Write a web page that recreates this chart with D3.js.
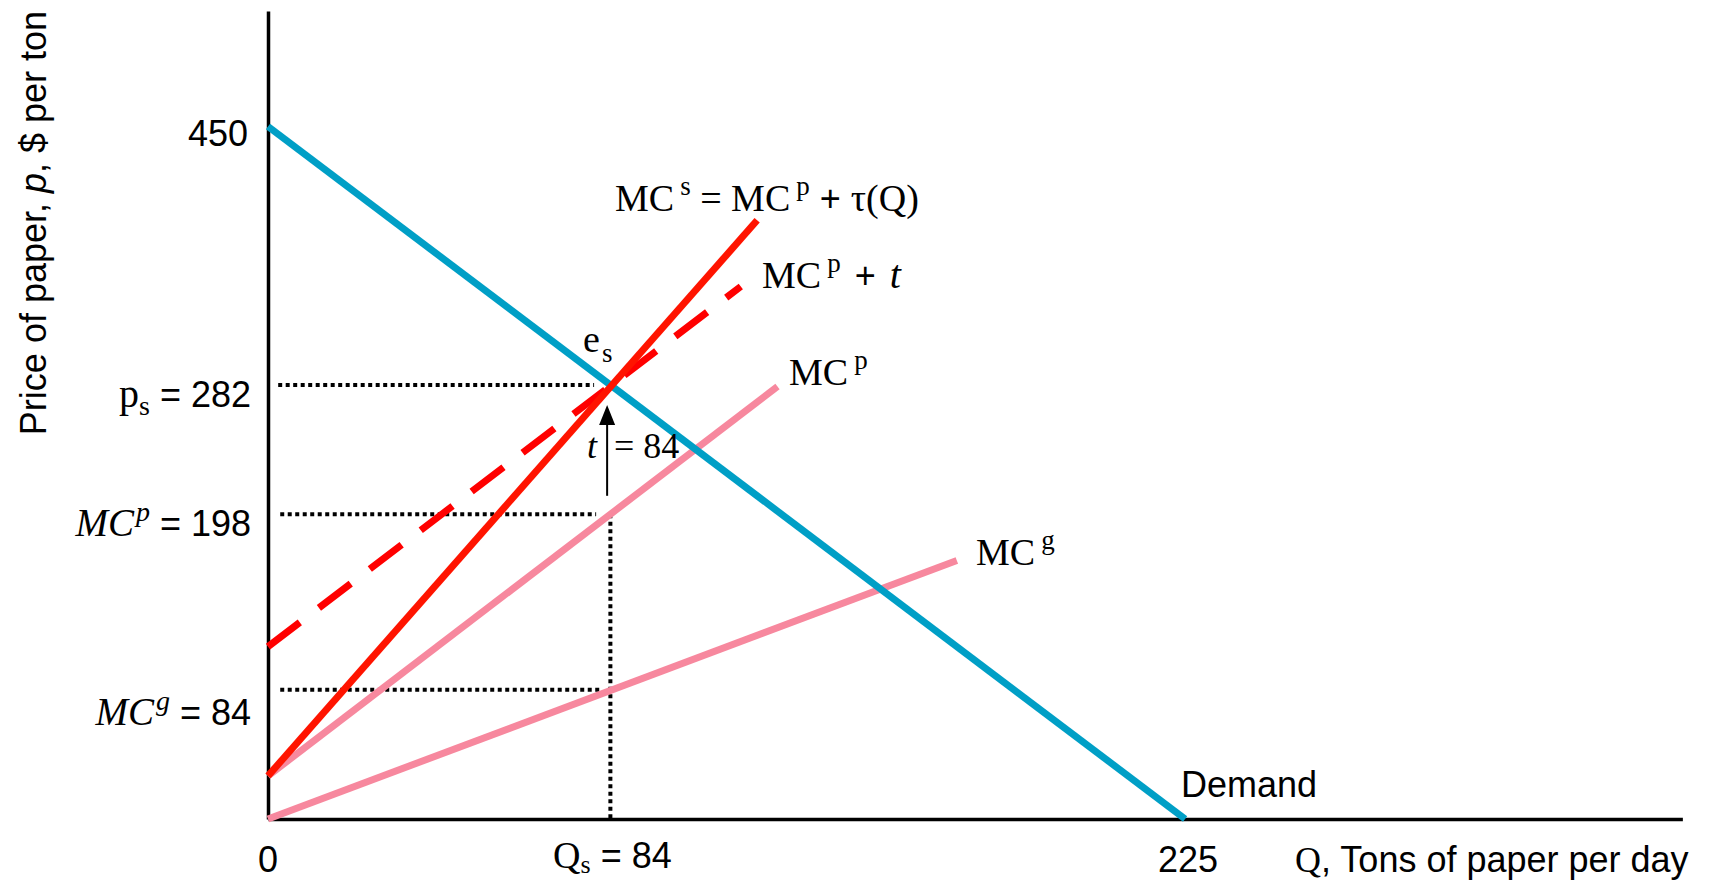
<!DOCTYPE html>
<html>
<head>
<meta charset="utf-8">
<script src="https://cdn.jsdelivr.net/npm/d3@7"></script>
<style>
  body { margin: 0; background: #fff; }
  .sans { font-family: "Liberation Sans", Arial, sans-serif; }
  .serif { font-family: "Liberation Serif", "Times New Roman", serif; }
</style>
</head>
<body>
<div id="chart"></div>
<script>
// curves as (Q, p) end points
const demand = [{ q: 0, p: 450 }, { q: 225, p: 0 }];
const mcSocial = [{ q: 0, p: 28 }, { q: 120, p: 389 }];
const mcPlusTax = [{ q: 0, p: 112 }, { q: 116, p: 346 }];
const mcPrivate = [{ q: 0, p: 28 }, { q: 125, p: 281 }];
const mcGov = [{ q: 0, p: 0 }, { q: 169, p: 168 }];

// dotted guide lines
const guidesH = [
    { p: 282, q0: 2.5, q1: 80 },
    { p: 198, q0: 3, q1: 80.5 },
    { p: 84, q0: 3, q1: 81.5 }
];
const guideV = { q: 84, p0: 198, p1: 0 };

// tax arrow
const taxArrow = { q: 83.2, p0: 210, p1: 269 };

// tick labels
const yTicks = [450, 282, 198, 84];
const xTicks = [0, 84, 225];

const W = 1719, H = 882;
const xMax = 347, yMax = 525;

d3.select("#chart").html("");
const svg = d3.select("#chart").append("svg")
    .attr("width", W)
    .attr("height", H);

const x = d3.scaleLinear().domain([0, xMax]).range([268, 268 + xMax * 4.076]);
const y = d3.scaleLinear().domain([0, yMax]).range([819, 11]);

// helper for labels with super / subscripts
const rich = (px, py, anchor, parts) => {
    const t = svg.append("text")
        .attr("x", px)
        .attr("y", py)
        .attr("text-anchor", anchor)
        .attr("fill", "#000");
    let shift = 0;
    parts.forEach(d => {
        const size = d.size || 36;
        let target = 0;
        if (d.pos === "sup") target = -(d.raise || 14);
        if (d.pos === "sub") target = (d.drop || 9);
        const s = t.append("tspan")
            .attr("class", d.cls || "sans")
            .attr("font-size", size)
            .attr("dy", target - shift)
            .text(d.t);
        if (d.italic) s.attr("font-style", "italic");
        if (d.dx) s.attr("dx", d.dx);
        shift = target;
    });
    return t;
};

// axes: just the two black lines
svg.append("g")
    .attr("transform", `translate(0, ${y(0)})`)
    .call(d3.axisBottom(x).tickValues([]).tickSizeOuter(0))
    .select(".domain").attr("stroke", "#000").attr("stroke-width", 3.5);
svg.append("g")
    .attr("transform", `translate(${x(0)}, 0)`)
    .call(d3.axisLeft(y).tickValues([]).tickSizeOuter(0))
    .select(".domain").attr("stroke", "#000").attr("stroke-width", 3.5);

// dotted guides
const dotted = svg.append("g")
    .attr("stroke", "#000")
    .attr("stroke-width", 4)
    .attr("stroke-dasharray", "4,3.5");
guidesH.forEach(g => {
    dotted.append("line")
        .attr("x1", x(g.q0)).attr("x2", x(g.q1))
        .attr("y1", y(g.p)).attr("y2", y(g.p));
});
dotted.append("line")
    .attr("x1", x(guideV.q)).attr("x2", x(guideV.q))
    .attr("y1", y(guideV.p0)).attr("y2", y(guideV.p1));

// curves
const line = d3.line().x(d => x(d.q)).y(d => y(d.p));
const drawCurve = (data, color, dash) => {
    const p = svg.append("path")
        .datum(data)
        .attr("fill", "none")
        .attr("stroke", color)
        .attr("stroke-width", 7)
        .attr("d", line);
    if (dash) p.attr("stroke-dasharray", dash);
};
drawCurve(mcGov, "#F7889E");
drawCurve(mcPrivate, "#F7889E");
drawCurve(demand, "#009FC6");
drawCurve(mcPlusTax, "#FF0000", "40,24");
drawCurve(mcSocial, "#FF1400");

// tax arrow
svg.append("line")
    .attr("x1", x(taxArrow.q)).attr("x2", x(taxArrow.q))
    .attr("y1", y(taxArrow.p0)).attr("y2", y(taxArrow.p1) + 18)
    .attr("stroke", "#000")
    .attr("stroke-width", 2);
svg.append("path")
    .attr("d", `M${x(taxArrow.q) - 8},${y(taxArrow.p1) + 20} L${x(taxArrow.q)},${y(taxArrow.p1)} L${x(taxArrow.q) + 8},${y(taxArrow.p1) + 20} Z`)
    .attr("fill", "#000");

// y tick labels (right aligned against the axis)
const yl = 251;
rich(yl - 3, y(yTicks[0]) + 20, "end", [{ t: String(yTicks[0]) }]);
rich(yl, y(yTicks[1]) + 22, "end", [
    { t: "p", cls: "serif", size: 40 },
    { t: "s", cls: "serif", size: 28, pos: "sub", drop: 8 },
    { t: " = " + yTicks[1] }
]);
rich(yl, y(yTicks[2]) + 22, "end", [
    { t: "MC", cls: "serif", size: 39, italic: true },
    { t: "p", cls: "serif", size: 28, italic: true, pos: "sup", raise: 15, dx: 2 },
    { t: " = " + yTicks[2] }
]);
rich(yl, y(yTicks[3]) + 35, "end", [
    { t: "MC", cls: "serif", size: 39, italic: true },
    { t: "g", cls: "serif", size: 28, italic: true, pos: "sup", raise: 15, dx: 2 },
    { t: " = " + yTicks[3] }
]);

// x tick labels
const xb = 872;
rich(x(xTicks[0]), xb, "middle", [{ t: String(xTicks[0]) }]);
rich(x(xTicks[1]) + 2, xb - 4, "middle", [
    { t: "Q", cls: "serif", size: 38 },
    { t: "s", cls: "serif", size: 26, pos: "sub", drop: 5 },
    { t: " = " + xTicks[1] }
]);
rich(x(xTicks[2]) + 3, xb, "middle", [{ t: String(xTicks[2]) }]);

// axis titles
rich(1295, xb, "start", [
    { t: "Q", cls: "serif", size: 36 },
    { t: ", Tons of paper per day" }
]);
svg.append("text")
    .attr("class", "sans")
    .attr("font-size", 36)
    .attr("text-anchor", "middle")
    .attr("transform", `translate(46, ${223}) rotate(-90)`)
    .call(t => {
        t.append("tspan").text("Price of paper, ");
        t.append("tspan").attr("font-style", "italic").text("p");
        t.append("tspan").text(", $ per ton");
    });

// curve labels
rich(615, 211, "start", [
    { t: "MC", cls: "serif", size: 38 },
    { t: "s", cls: "serif", size: 27, pos: "sup", raise: 16, dx: 6 },
    { t: " = MC", cls: "serif", size: 38 },
    { t: "p", cls: "serif", size: 27, pos: "sup", raise: 16, dx: 6 },
    { t: " + ", cls: "sans", size: 36 },
    { t: "τ(Q)", cls: "serif", size: 38 }
]);
rich(762, 288, "start", [
    { t: "MC", cls: "serif", size: 38 },
    { t: "p", cls: "serif", size: 27, pos: "sup", raise: 16, dx: 6 },
    { t: " + ", cls: "sans", size: 36, dx: 4 },
    { t: "t", cls: "serif", size: 40, italic: true, dx: 4 }
]);
rich(789, 385, "start", [
    { t: "MC", cls: "serif", size: 38 },
    { t: "p", cls: "serif", size: 27, pos: "sup", raise: 16, dx: 6 }
]);
rich(976, 565, "start", [
    { t: "MC", cls: "serif", size: 38 },
    { t: "g", cls: "serif", size: 27, pos: "sup", raise: 16, dx: 6 }
]);
rich(583, 352, "start", [
    { t: "e", cls: "serif", size: 38 },
    { t: "s", cls: "serif", size: 27, pos: "sub", drop: 10, dx: 2 }
]);
rich(587, 458, "start", [
    { t: "t", cls: "serif", size: 36, italic: true },
    { t: " = 84", cls: "serif", size: 36, dx: 8 }
]);
rich(1181, 797, "start", [{ t: "Demand", size: 36 }]);
</script>
</body>
</html>
